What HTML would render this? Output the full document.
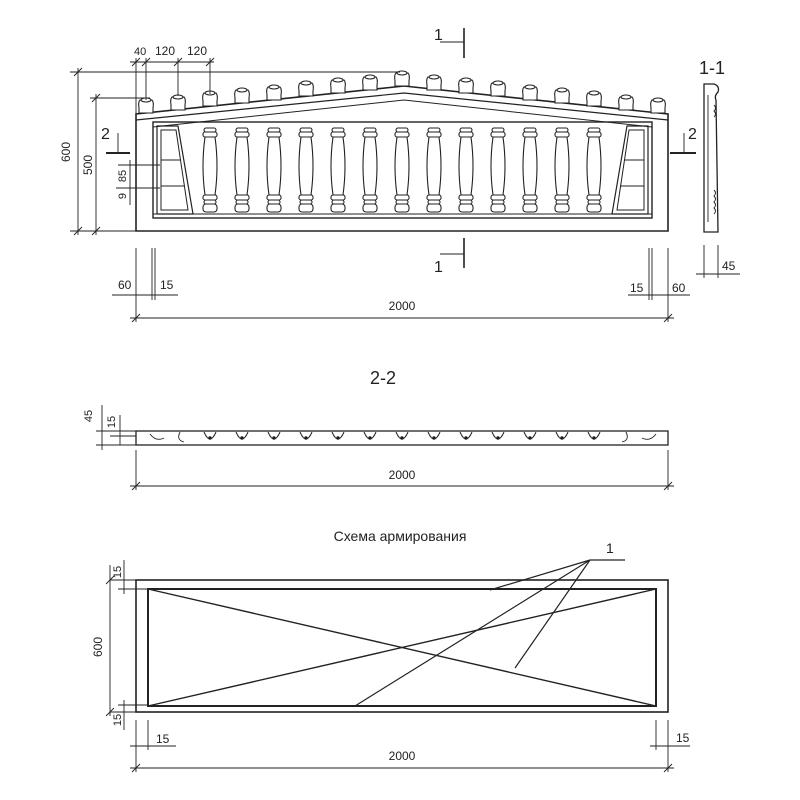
<!DOCTYPE html>
<html><head><meta charset="utf-8"><style>
html,body{margin:0;padding:0;background:#fff}
svg{display:block}
text{font-family:"Liberation Sans",sans-serif;fill:#222}
</style></head><body>
<svg width="800" height="800" viewBox="0 0 800 800" xmlns="http://www.w3.org/2000/svg">
<defs>
<g id="cap" stroke="#222" fill="#fff" stroke-width="1.1">
<path d="M-7 0 L-7 -5 Q-8 -11 -6 -13 L6 -13 Q8 -11 7 -5 L7 0 Z"/>
<ellipse cx="0" cy="-13" rx="5" ry="2"/>
</g>
<g id="bal" stroke="#222" fill="#fff" stroke-width="1.1">
<rect x="-6" y="128" width="12" height="4" rx="2"/>
<rect x="-7" y="132" width="14" height="5" rx="2"/>
<path d="M-5 137 Q-9 166 -5 195 L5 195 Q9 166 5 137 Z"/>
<rect x="-7" y="195" width="14" height="5" rx="2"/>
<rect x="-6" y="200" width="12" height="4" rx="2"/>
<rect x="-7" y="204" width="14" height="8" rx="3"/>
</g>
<g id="cup" stroke="#222" fill="none" stroke-width="1">
<path d="M-6 432 Q0 446 6 432"/><circle cx="0" cy="438" r="1.2" fill="#222"/>
</g>
</defs>
<g stroke="#222" fill="none" stroke-width="1">
<path d="M136 231 L136 114 L404 86 L668 114 L668 231 Z" stroke-width="1.6"/>
<path d="M136 120 L404 93 L668 120" stroke-width="1.2"/>
<path d="M153 127 L404 100 L652 127"/>
<rect x="153" y="122" width="499" height="96" stroke-width="1.4"/>
<line x1="153" y1="214" x2="652" y2="214"/>
<path d="M157 126 L178 126 L193 214 L157 214 Z" stroke-width="1.2"/>
<path d="M161 130 L176 130 L188 210 L161 210 Z"/>
<line x1="161" y1="160" x2="181" y2="160"/><line x1="161" y1="186" x2="185" y2="186"/>
<path d="M648 126 L627 126 L612 214 L648 214 Z" stroke-width="1.2"/>
<path d="M644 130 L629 130 L617 210 L644 210 Z"/>
<line x1="644" y1="160" x2="624" y2="160"/><line x1="644" y1="186" x2="620" y2="186"/>
</g>
<use href="#cap" x="146" y="113"/><use href="#cap" x="178" y="110"/><use href="#cap" x="210" y="106"/>
<use href="#cap" x="242" y="103"/><use href="#cap" x="274" y="100"/><use href="#cap" x="306" y="96"/>
<use href="#cap" x="338" y="93"/><use href="#cap" x="370" y="90"/><use href="#cap" x="402" y="86"/>
<use href="#cap" x="434" y="90"/><use href="#cap" x="466" y="93"/><use href="#cap" x="498" y="96"/>
<use href="#cap" x="530" y="100"/><use href="#cap" x="562" y="103"/><use href="#cap" x="594" y="106"/>
<use href="#cap" x="626" y="110"/><use href="#cap" x="658" y="113"/>
<use href="#bal" x="210"/><use href="#bal" x="242"/><use href="#bal" x="274"/><use href="#bal" x="306"/>
<use href="#bal" x="338"/><use href="#bal" x="370"/><use href="#bal" x="402"/><use href="#bal" x="434"/>
<use href="#bal" x="466"/><use href="#bal" x="498"/><use href="#bal" x="530"/><use href="#bal" x="562"/>
<use href="#bal" x="594"/>
<g stroke="#222" fill="none" stroke-width="0.9">
<line x1="70" y1="72" x2="400" y2="72"/><line x1="78" y1="68" x2="78" y2="235"/>
<line x1="90" y1="98" x2="150" y2="98"/><line x1="96" y1="94" x2="96" y2="235"/>
<line x1="70" y1="231" x2="136" y2="231"/>
<path d="M74 76 L82 68 M74 235 L82 227 M92 102 L100 94 M92 235 L100 227"/>
<line x1="130" y1="62" x2="214" y2="62"/>
<line x1="136" y1="58" x2="136" y2="114"/><line x1="146" y1="58" x2="146" y2="100"/>
<line x1="178" y1="58" x2="178" y2="96"/><line x1="210" y1="58" x2="210" y2="94"/>
<path d="M132 66 L140 58 M142 66 L150 58 M174 66 L182 58 M206 66 L214 58"/>
<line x1="118" y1="165" x2="160" y2="165"/><line x1="116" y1="188" x2="160" y2="188"/>
<line x1="130" y1="160" x2="130" y2="205"/>
<line x1="106" y1="153" x2="130" y2="153" stroke-width="2"/><line x1="118" y1="133" x2="118" y2="153"/>
<line x1="670" y1="153" x2="696" y2="153" stroke-width="2"/><line x1="684" y1="133" x2="684" y2="153"/>
<line x1="464" y1="28" x2="464" y2="58" stroke-width="1.6"/><line x1="440" y1="42" x2="464" y2="42"/>
<line x1="464" y1="238" x2="464" y2="268" stroke-width="1.6"/><line x1="440" y1="254" x2="464" y2="254"/>
<line x1="136" y1="248" x2="136" y2="322"/><line x1="152" y1="248" x2="152" y2="300"/><line x1="155" y1="248" x2="155" y2="300"/>
<line x1="112" y1="295" x2="178" y2="295"/>
<line x1="668" y1="248" x2="668" y2="322"/><line x1="652" y1="248" x2="652" y2="300"/><line x1="649" y1="248" x2="649" y2="300"/>
<line x1="628" y1="295" x2="690" y2="295"/>
<line x1="130" y1="318" x2="674" y2="318"/>
<path d="M132 322 L140 314 M664 322 L672 314"/>
<path d="M704 232 L704 84 L714 84 Q720 86 718 92 Q714 96 716 100 L718 232 Z" stroke-width="1.3"/>
<line x1="708" y1="95" x2="708" y2="222"/>
<path d="M714 105 q3 3 0 6 q3 3 0 6 M714 190 q3 3 0 6 q3 3 0 6 q3 3 0 6 q3 3 0 6"/>
<line x1="704" y1="245" x2="704" y2="278"/><line x1="718" y1="245" x2="718" y2="278"/>
<line x1="696" y1="274" x2="740" y2="274"/>
<rect x="136" y="431" width="532" height="14" stroke-width="1.3"/>
<line x1="96" y1="431" x2="136" y2="431"/><line x1="110" y1="436" x2="136" y2="436"/><line x1="96" y1="445" x2="136" y2="445"/>
<line x1="102" y1="405" x2="102" y2="450"/><line x1="120" y1="415" x2="120" y2="445"/>
<line x1="136" y1="450" x2="136" y2="490"/><line x1="668" y1="450" x2="668" y2="490"/>
<line x1="130" y1="486" x2="674" y2="486"/>
<path d="M132 490 L140 482 M664 490 L672 482"/>
<path d="M150 434 q6 8 14 4 M180 432 q-4 8 4 10 M656 434 q-6 8 -14 4 M626 432 q4 8 -4 10"/>
</g>
<use href="#cup" x="210"/><use href="#cup" x="242"/><use href="#cup" x="274"/><use href="#cup" x="306"/>
<use href="#cup" x="338"/><use href="#cup" x="370"/><use href="#cup" x="402"/><use href="#cup" x="434"/>
<use href="#cup" x="466"/><use href="#cup" x="498"/><use href="#cup" x="530"/><use href="#cup" x="562"/>
<use href="#cup" x="594"/>
<g stroke="#222" fill="none">
<rect x="136" y="580" width="532" height="132" stroke-width="1.6"/>
<rect x="148" y="589" width="508" height="117" stroke-width="2"/>
<line x1="148" y1="589" x2="656" y2="706" stroke-width="1.4"/>
<line x1="148" y1="706" x2="656" y2="589" stroke-width="1.4"/>
<path d="M490 590 L590 560 L355 706 M590 560 L515 668 M590 560 L625 560" stroke-width="1.2"/>
<g stroke-width="0.9">
<line x1="110" y1="580" x2="136" y2="580"/><line x1="118" y1="589" x2="148" y2="589"/>
<line x1="110" y1="712" x2="136" y2="712"/><line x1="118" y1="705" x2="148" y2="705"/>
<line x1="110" y1="565" x2="110" y2="716"/><line x1="124" y1="560" x2="124" y2="594"/><line x1="124" y1="700" x2="124" y2="730"/>
<line x1="136" y1="720" x2="136" y2="772"/><line x1="148" y1="720" x2="148" y2="750"/>
<line x1="668" y1="720" x2="668" y2="772"/><line x1="656" y1="720" x2="656" y2="750"/>
<line x1="130" y1="746" x2="176" y2="746"/><line x1="650" y1="746" x2="690" y2="746"/>
<line x1="130" y1="768" x2="674" y2="768"/>
<path d="M132 772 L140 764 M664 772 L672 764 M106 584 L114 576 M106 716 L114 708"/>
</g></g>
<g font-size="12">
<text x="134" y="55" font-size="11">40</text><text x="155" y="55">120</text><text x="187" y="55">120</text>
<text x="70" y="152" transform="rotate(-90 70 152)" text-anchor="middle">600</text>
<text x="92" y="165" transform="rotate(-90 92 165)" text-anchor="middle">500</text>
<text x="126" y="176" transform="rotate(-90 126 176)" text-anchor="middle" font-size="11">85</text>
<text x="126" y="196" transform="rotate(-90 126 196)" text-anchor="middle" font-size="11">9</text>
<text x="101" y="139" font-size="16">2</text><text x="688" y="139" font-size="16">2</text>
<text x="434" y="40" font-size="16">1</text><text x="434" y="272" font-size="16">1</text>
<text x="118" y="289">60</text><text x="160" y="289">15</text>
<text x="630" y="292">15</text><text x="672" y="292">60</text>
<text x="402" y="310" text-anchor="middle">2000</text>
<text x="712" y="74" font-size="18" text-anchor="middle">1-1</text>
<text x="722" y="270">45</text>
<text x="383" y="384" font-size="18" text-anchor="middle">2-2</text>
<text x="92" y="416" transform="rotate(-90 92 416)" text-anchor="middle" font-size="11">45</text>
<text x="115" y="422" transform="rotate(-90 115 422)" text-anchor="middle" font-size="11">15</text>
<text x="402" y="479" text-anchor="middle">2000</text>
<text x="400" y="541" font-size="14" text-anchor="middle">Схема армирования</text>
<text x="606" y="553" font-size="14">1</text>
<text x="121" y="572" transform="rotate(-90 121 572)" text-anchor="middle" font-size="11">15</text>
<text x="102" y="647" transform="rotate(-90 102 647)" text-anchor="middle">600</text>
<text x="121" y="720" transform="rotate(-90 121 720)" text-anchor="middle" font-size="11">15</text>
<text x="156" y="743">15</text><text x="676" y="742">15</text>
<text x="402" y="760" text-anchor="middle">2000</text>
</g>
</svg>
</body></html>
